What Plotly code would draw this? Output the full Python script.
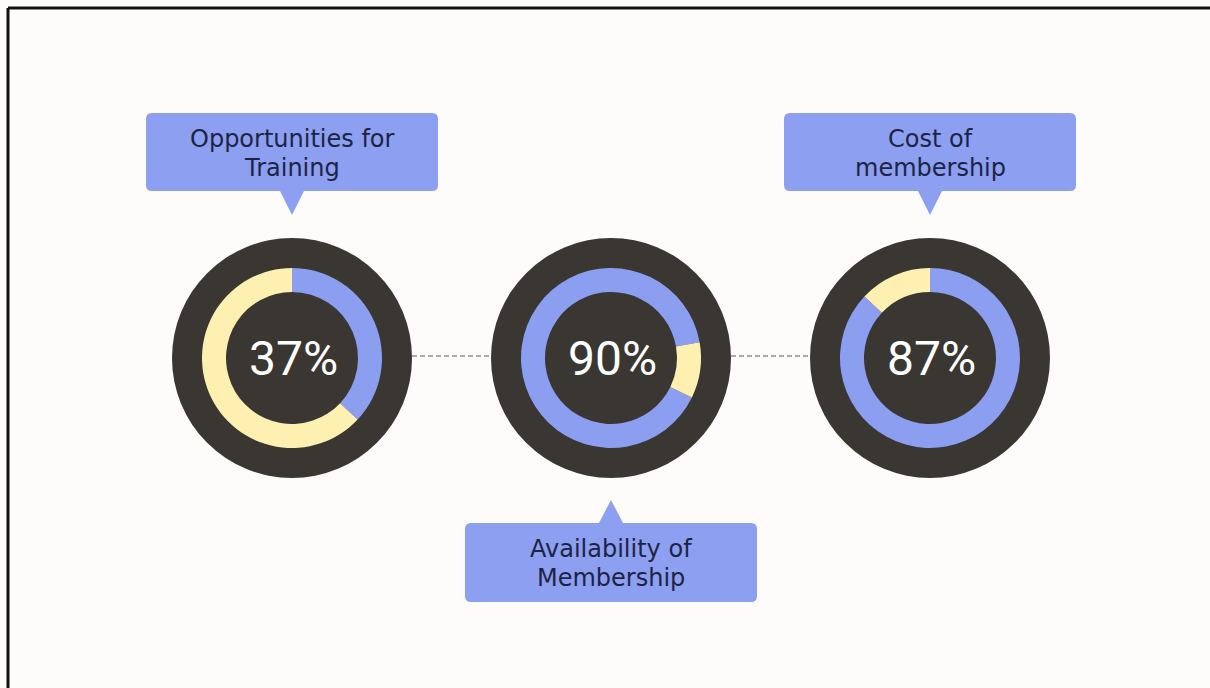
import plotly.graph_objects as go

W, H = 1210, 688

# ---- data ----
categories = ["Opportunities for Training", "Availability of Membership", "Cost of membership"]
label_lines = [["Opportunities for", "Training"], ["Availability of", "Membership"], ["Cost of", "membership"]]
percent_values = [37, 90, 87]
start_angles = [0, 116, 0]          # clockwise start angle of the blue slice
center_px = [292, 611, 930]
label_side = ["top", "bottom", "top"]

DARK = "#3a3632"
BLUE = "#8b9ef0"
YELLOW = "#fdf0b0"
BOX = "#8c9ff0"
NAVY = "#1c2445"
BG = "#fdfcfa"

CY = 358
R_OUT, R_RING = 120, 90
HOLE = 66 / 90

def dom(cx, cy, r):
    return dict(x=[(cx - r) / W, (cx + r) / W], y=[1 - (cy + r) / H, 1 - (cy - r) / H])

fig = go.Figure()

# dashed connectors behind donuts
shapes = [
    dict(type="line", xref="x", yref="y", x0=center_px[0] + R_OUT, x1=center_px[1] - R_OUT, y0=356, y1=356,
         line=dict(color="#a8a8a8", width=2, dash="5px,3px"), layer="below"),
    dict(type="line", xref="x", yref="y", x0=center_px[1] + R_OUT, x1=center_px[2] - R_OUT, y0=356, y1=356,
         line=dict(color="#a8a8a8", width=2, dash="5px,3px"), layer="below"),
    # frame lines (top & left)
    dict(type="line", xref="x", yref="y", x0=8, x1=W, y0=8, y1=8, line=dict(color="#111111", width=3)),
    dict(type="line", xref="x", yref="y", x0=8, x1=8, y0=8, y1=H, line=dict(color="#111111", width=3)),
]

annotations = []

for i, cat in enumerate(categories):
    cx = center_px[i]
    p = percent_values[i]
    # outer dark disc
    fig.add_trace(go.Pie(values=[1], labels=[cat + " base"], marker=dict(colors=[DARK], line=dict(width=0)),
                         domain=dom(cx, CY, R_OUT), textinfo="none", hoverinfo="skip", sort=False, showlegend=False))
    # ring
    fig.add_trace(go.Pie(values=[p, 100 - p], labels=[cat + " yes", cat + " no"],
                         marker=dict(colors=[BLUE, YELLOW], line=dict(width=0)),
                         hole=HOLE, rotation=start_angles[i], direction="clockwise", sort=False,
                         domain=dom(cx, CY, R_RING), textinfo="none", hoverinfo="label+value", showlegend=False))
    annotations.append(dict(x=cx + 1, y=CY, xref="x", yref="y", text=f"{p}%", showarrow=False,
                            font=dict(family="Roboto", size=48, color="#ffffff")))

    # label box with pointer
    bw2, r = 146, 6
    if label_side[i] == "top":
        top, bot = 113, 191
        tip_y, base_y = 215, bot
    else:
        top, bot = 523, 602
        tip_y, base_y = 500, top
    l, rr = cx - bw2, cx + bw2
    path = (f"M {l + r},{top} L {rr - r},{top} Q {rr},{top} {rr},{top + r} "
            f"L {rr},{bot - r} Q {rr},{bot} {rr - r},{bot} L {l + r},{bot} Q {l},{bot} {l},{bot - r} "
            f"L {l},{top + r} Q {l},{top} {l + r},{top} Z")
    shapes.append(dict(type="path", xref="x", yref="y", path=path, fillcolor=BOX, line=dict(width=0)))
    tri = f"M {cx - 12},{base_y} L {cx + 12},{base_y} L {cx},{tip_y} Z"
    shapes.append(dict(type="path", xref="x", yref="y", path=tri, fillcolor=BOX, line=dict(width=0)))
    mid = (top + bot) / 2
    for j, line in enumerate(label_lines[i]):
        annotations.append(dict(x=cx, y=mid + (j - 0.5) * 29 + 1, xref="x", yref="y", text=line, showarrow=False,
                                font=dict(family="DejaVu Sans", size=24, color=NAVY)))

fig.update_layout(
    width=W, height=H, margin=dict(l=0, r=0, t=0, b=0),
    paper_bgcolor=BG, plot_bgcolor=BG,
    xaxis=dict(range=[0, W], visible=False, fixedrange=True),
    yaxis=dict(range=[H, 0], visible=False, fixedrange=True),
    shapes=shapes, annotations=annotations, showlegend=False,
)

fig.write_html("out.html")
